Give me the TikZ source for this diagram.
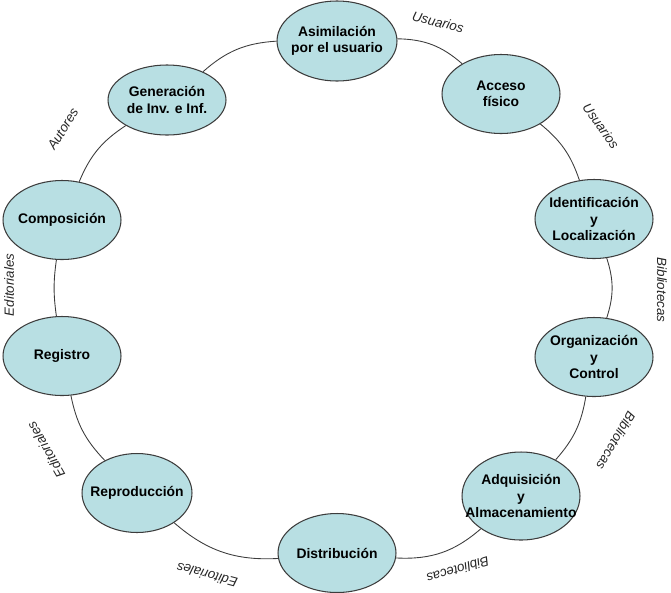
\documentclass[tikz,border=0pt]{standalone}
\usepackage{fontspec}
\setmainfont{Liberation Sans}
\usepackage{tikz}
\usetikzlibrary{shapes.geometric}
\definecolor{celeste}{RGB}{184,223,227}
\definecolor{lineagris}{RGB}{60,60,60}
\tikzset{etapa/.style={ellipse, draw=lineagris, fill=celeste, line width=0.6pt, minimum width=2.36cm, minimum height=1.58cm, inner xsep=-0.3cm, inner ysep=0pt, align=center, font=\bfseries\fontsize{7.9}{9.2}\selectfont}}
\tikzset{actor/.style={inner sep=0pt, text=black!85, font=\itshape\fontsize{7.6}{9}\selectfont}}
\tikzset{enlace/.style={draw=lineagris, line width=0.5pt}}

\begin{document}
\begin{tikzpicture}[x=0.02cm, y=-0.02cm]
\useasboundingbox (0,0) rectangle (671,592);

\node[etapa, minimum width=2.4cm, minimum height=1.6cm] (asim) at (337, 41) {Asimilación\\por el usuario};
\node[etapa] (acc) at (501, 94) {Acceso\\físico};
\node[etapa] (iden) at (594, 219) {Identificación\\y\\Localización};
\node[etapa] (org) at (594, 357) {Organización\\y\\Control};
\node[etapa, minimum height=1.76cm] (adq) at (521, 496) {Adquisición\\y\\Almacenamiento};
\node[etapa] (dist) at (337, 553) {Distribución};
\node[etapa, minimum width=2.2cm] (repro) at (137, 493) {Reproducción};
\node[etapa] (reg) at (62, 356) {Registro};
\node[etapa] (comp) at (62, 220) {Composición};
\node[etapa, minimum height=1.4cm] (gen) at (167, 100) {Generación\\de Inv. e Inf.};

\draw[enlace] (asim) to[bend left=20] (acc);
\draw[enlace] (acc) to[bend left=16] (iden);
\draw[enlace] (iden) to[bend left=18] (org);
\draw[enlace] (org) to[bend left=16] (adq);
\draw[enlace] (adq) to[bend left=22] (dist);
\draw[enlace] (dist) to[bend left=22] (repro);
\draw[enlace] (repro) to[bend left=16] (reg);
\draw[enlace] (reg) to[bend left=8] (comp);
\draw[enlace] (comp) to[bend left=17] (gen);
\draw[enlace] (gen) to[bend left=19] (asim);

% quienes intervienen en cada tramo
\node[actor, rotate=-14] (usu1) at (438, 22) {Usuarios};
\node[actor, rotate=-55] (usu2) at (601, 126) {Usuarios};
\node[actor, rotate=-90] (bib1) at (662, 290) {Bibliotecas};
\node[actor, rotate=-120] (bib2) at (616, 441) {Bibliotecas};
\node[actor, rotate=-163] (bib3) at (458, 570) {Bibliotecas};
\node[actor, rotate=165] (edi1) at (207, 575) {Editoriales};
\node[actor, rotate=120] (edi2) at (46, 450) {Editoriales};
\node[actor, rotate=90] (edi3) at (9, 285) {Editoriales};
\node[actor, rotate=58] (aut) at (63, 129) {Autores};

\end{tikzpicture}
\end{document}
